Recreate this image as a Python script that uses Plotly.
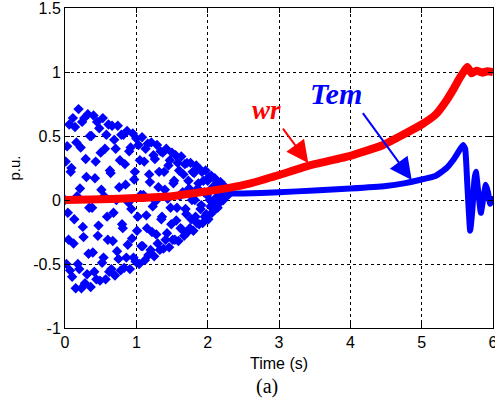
import plotly.graph_objects as go

# ---- data ----
# Tem: sampled electromagnetic torque during start-up (0 .. 2.30 s, dt = 0.01 s)
tem_dt = 0.01
tem_osc = [
    0.00, 0.30, -0.50, 0.42, -0.10, -0.31, 0.59, -0.55, 0.22, 0.25,
    -0.60, 0.64, -0.34, -0.15, 0.57, -0.69, 0.45, 0.03, -0.50, 0.71,
    -0.54, 0.09, 0.41, -0.69, 0.61, -0.21, -0.29, 0.64, -0.65, 0.32,
    0.18, -0.58, 0.67, -0.42, -0.06, 0.50, -0.68, 0.50, -0.06, -0.41,
    0.66, -0.56, 0.17, 0.30, -0.62, 0.61, -0.28, -0.20, 0.56, -0.63,
    0.37, 0.08, -0.49, 0.64, -0.45, 0.03, 0.40, -0.62, 0.51, -0.13,
    -0.31, 0.59, -0.56, 0.23, 0.21, -0.54, 0.58, -0.32, -0.10, 0.47,
    -0.59, 0.40, 0.00, -0.40, 0.58, -0.46, 0.10, 0.31, -0.55, 0.51,
    -0.19, -0.22, 0.51, -0.53, 0.28, 0.12, -0.45, 0.54, -0.35, -0.02,
    0.38, -0.54, 0.41, -0.07, -0.30, 0.52, -0.45, 0.16, 0.22, -0.48,
    0.48, -0.24, -0.13, 0.43, -0.50, 0.31, 0.04, -0.36, 0.49, -0.36,
    0.04, 0.30, -0.47, 0.40, -0.12, -0.22, 0.44, -0.43, 0.20, 0.14,
    -0.39, 0.45, -0.25, -0.05, 0.35, -0.44, 0.32, -0.01, -0.27, 0.43,
    -0.34, 0.10, 0.22, -0.39, 0.38, -0.15, -0.13, 0.37, -0.38, 0.22,
    0.08, -0.31, 0.40, -0.26, 0.01, 0.27, -0.37, 0.31, -0.06, -0.19,
    0.37, -0.31, 0.13, 0.15, -0.31, 0.35, -0.16, -0.06, 0.29, -0.32,
    0.23, 0.03, -0.22, 0.34, -0.23, 0.06, 0.20, -0.28, 0.28, -0.07,
    -0.11, 0.29, -0.25, 0.15, 0.09, -0.22, 0.29, -0.15, 0.00, 0.22,
    -0.24, 0.21, 0.00, -0.13, 0.27, -0.18, 0.09, 0.13, -0.19, 0.24,
    -0.07, -0.04, 0.22, -0.18, 0.15, 0.06, -0.13, 0.23, -0.11, 0.04,
    0.15, -0.15, 0.18, 0.00, -0.05, 0.19, -0.10, 0.10, 0.09, -0.08,
    0.17, -0.03, 0.02, 0.14, -0.06, 0.12, 0.05, -0.01, 0.14, -0.01,
    0.07, 0.09, 0.00, 0.11, 0.04, 0.04, 0.09, 0.03, 0.08, 0.07,
    0.05,
]
tem_osc_t = [round(i * tem_dt, 2) for i in range(len(tem_osc))]

# Tem after the oscillating phase
tem_tail_t = [2.30, 2.50, 3.00, 3.50, 4.00, 4.50, 4.75, 5.00, 5.20, 5.35, 5.44, 5.52,
              5.58, 5.61, 5.64, 5.68, 5.71, 5.74, 5.76, 5.79, 5.83, 5.86, 5.90, 5.93,
              5.96, 6.00]
tem_tail_v = [0.05, 0.05, 0.06, 0.075, 0.09, 0.11, 0.13, 0.16, 0.19, 0.25, 0.31, 0.38,
              0.43, 0.40, 0.12, -0.24, -0.08, 0.16, 0.22, 0.08, -0.10, 0.00, 0.12, 0.06,
              -0.03, 0.03]

# wr: rotor speed
wr_t = [0.0, 0.5, 1.0, 1.5, 1.9, 2.3, 2.6, 3.0, 3.43, 4.0, 4.46, 5.0, 5.2, 5.35,
        5.45, 5.54, 5.6, 5.64, 5.7, 5.77, 5.85, 5.92, 6.0]
wr_v = [0.0, 0.005, 0.015, 0.03, 0.06, 0.095, 0.13, 0.195, 0.27, 0.345, 0.43, 0.59,
        0.67, 0.78, 0.87, 0.96, 1.01, 1.04, 0.99, 1.01, 0.995, 1.005, 1.0]

x_ticks = [0, 1, 2, 3, 4, 5, 6]
y_ticks = [-1, -0.5, 0, 0.5, 1, 1.5]
y_tick_text = ["-1", "-0.5", "0", "0.5", "1", "1.5"]

RED = "#ff0000"
BLUE = "#0000ff"
SANS = "Liberation Sans, Arial, sans-serif"
SERIF = "Liberation Serif, Times New Roman, serif"

fig = go.Figure()
fig.add_trace(go.Scatter(x=tem_osc_t, y=tem_osc, mode="markers", name="Tem",
                         marker=dict(symbol="diamond", size=8, color=BLUE,
                                     line=dict(width=0)),
                         showlegend=False))
fig.add_trace(go.Scatter(x=tem_tail_t, y=tem_tail_v, mode="lines", name="Tem",
                         line=dict(color=BLUE, width=6, shape="spline", smoothing=0.4),
                         showlegend=False))
fig.add_trace(go.Scatter(x=wr_t, y=wr_v, mode="lines", name="wr",
                         line=dict(color=RED, width=8, shape="spline", smoothing=0.4),
                         showlegend=False))

axis_common = dict(showline=True, linecolor="black", linewidth=1, mirror="allticks",
                   ticks="inside", ticklen=5, tickcolor="black", tickwidth=1,
                   showgrid=True, gridcolor="black", griddash="dot", gridwidth=1,
                   zeroline=False, automargin=False, ticklabeloverflow="allow",
                   tickfont=dict(family=SANS, size=16, color="black"))

fig.update_xaxes(range=[0, 6], tickvals=x_ticks, ticktext=[str(v) for v in x_ticks],
                 title=dict(text="Time (s)", standoff=7,
                            font=dict(family=SANS, size=16, color="black")),
                 **axis_common)
fig.update_yaxes(range=[-1, 1.5], tickvals=y_ticks, ticktext=y_tick_text,
                 title=dict(text="p.u.", standoff=8,
                            font=dict(family=SANS, size=15, color="black")),
                 **axis_common)

fig.add_annotation(x=2.82, y=0.70, xref="x", yref="y", text="<b><i>wr</i></b>",
                   showarrow=False, font=dict(family=SERIF, size=27, color=RED))
fig.add_annotation(x=3.80, y=0.83, xref="x", yref="y", text="<b><i>Tem</i></b>",
                   showarrow=False, font=dict(family=SERIF, size=30, color=BLUE))
fig.add_annotation(x=3.41, y=0.29, ax=3.04, ay=0.57, xref="x", yref="y",
                   axref="x", ayref="y", text="", showarrow=True, arrowhead=2,
                   arrowsize=2.2, arrowwidth=2, arrowcolor=RED)
fig.add_annotation(x=4.86, y=0.156, ax=4.16, ay=0.69, xref="x", yref="y",
                   axref="x", ayref="y", text="", showarrow=True, arrowhead=2,
                   arrowsize=2.2, arrowwidth=2, arrowcolor=BLUE)
fig.add_annotation(x=0.472, y=-0.183, xref="paper", yref="paper", text="(a)",
                   showarrow=False, yanchor="middle",
                   font=dict(family=SERIF, size=20, color="black"))

fig.update_layout(width=495, height=403, template="none",
                  margin=dict(l=65, r=2, t=8, b=75, pad=0),
                  paper_bgcolor="white", plot_bgcolor="white",
                  showlegend=False)

fig.write_html("out.html", config={"displayModeBar": False},
               post_script="document.body.style.margin='0px';"
                           "document.body.style.padding='0px';")
